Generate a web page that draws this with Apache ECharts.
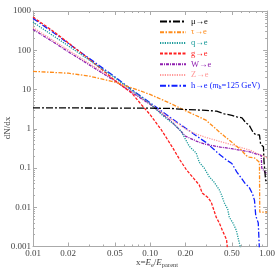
<!DOCTYPE html>
<html><head><meta charset="utf-8">
<script src="https://cdn.jsdelivr.net/npm/echarts@6/dist/echarts.min.js"></script>
<style>html,body{margin:0;padding:0;background:#fff}#c{width:278px;height:271px}</style>
</head><body><div id="c"></div>
<script>
const xMajor = [0.01, 0.02, 0.05, 0.1, 0.2, 0.5, 1];
const xLabels = ['0.01', '0.02', '0.05', '0.10', '0.20', '0.50', '1.00'];
const xMinor = [0.03, 0.04, 0.06, 0.07, 0.08, 0.09, 0.3, 0.4, 0.6, 0.7, 0.8, 0.9];
const yMajor = [0.001, 0.01, 0.1, 1, 10, 100, 1000];
const yLabels = ['0.001', '0.01', '0.1', '1', '10', '100', '1000'];
const yMinor = [];
[0.001, 0.01, 0.1, 1, 10, 100].forEach(d => { for (let k = 2; k <= 9; k++) yMinor.push(+(d * k).toPrecision(3)); });

const seriesNames = ['μ→e', 'τ→e', 'q→e', 'g→e', 'W→e', 'Z→e', 'h→e (m_h=125 GeV)'];
const seriesColors = ['#000000', '#ff8c1a', '#1a9a9a', '#ff2020', '#9020b0', '#ff9a9a', '#1020ff'];

const muE = [[0.01,3.4],[0.02,3.4],[0.05,3.35],[0.1,3.35],[0.15,3.3],[0.2,3.1],[0.3,2.95],[0.37,2.8],[0.43,2.4],[0.5,2.2],[0.55,2.0],[0.61,1.9],[0.66,1.4],[0.7,1.26],[0.73,1.0],[0.76,0.8],[0.8,0.7],[0.86,0.7],[0.88,0.4],[0.93,0.35],[0.94,0.15],[0.97,0.05],[1.0,0.04]];
const tauE = [[0.01,29],[0.02,26],[0.03,22],[0.05,15.5],[0.07,11],[0.1,7.5],[0.15,4.4],[0.2,2.9],[0.3,1.66],[0.4,0.78],[0.5,0.45],[0.6,0.29],[0.66,0.21],[0.7,0.19],[0.78,0.18],[0.86,0.14],[0.865,0.0075],[1.0,0.0075]];
const qE = [[0.01,520],[0.015,230],[0.02,130],[0.03,57],[0.05,20],[0.07,9.5],[0.1,4.4],[0.13,2.1],[0.16,1.3],[0.185,0.85],[0.2,0.55],[0.216,0.36],[0.248,0.24],[0.263,0.14],[0.29,0.1],[0.32,0.06],[0.35,0.045],[0.39,0.028],[0.41,0.02],[0.43,0.013],[0.46,0.009],[0.475,0.0056],[0.51,0.004],[0.545,0.0026],[0.58,0.0012],[0.6,0.0008]];
const gE = [[0.01,700],[0.015,300],[0.02,155],[0.03,60],[0.04,30],[0.05,17],[0.07,8.0],[0.085,4.0],[0.1,2.3],[0.125,0.93],[0.155,0.34],[0.18,0.16],[0.205,0.089],[0.235,0.055],[0.263,0.037],[0.279,0.023],[0.31,0.018],[0.333,0.0135],[0.367,0.0056],[0.39,0.004],[0.414,0.0026],[0.45,0.0015],[0.46,0.0008]];
const wE = [[0.01,340],[0.015,160],[0.02,92],[0.03,43],[0.05,16.5],[0.07,8.4],[0.1,4.2],[0.15,1.6],[0.178,0.95],[0.2,0.65],[0.263,0.45],[0.3,0.4],[0.4,0.34],[0.5,0.31],[0.6,0.28],[0.7,0.26],[0.8,0.23],[0.89,0.21],[0.9,0.1],[0.95,0.08],[1.0,0.07]];
const zE = [[0.01,380],[0.015,175],[0.02,102],[0.03,47],[0.05,17.5],[0.07,8.8],[0.1,4.3],[0.15,1.8],[0.2,1.0],[0.23,0.8],[0.263,0.69],[0.3,0.6],[0.4,0.47],[0.5,0.39],[0.6,0.33],[0.7,0.29],[0.75,0.27],[0.8,0.24],[0.9,0.21],[0.93,0.19],[1.0,0.18]];
const hE = [[0.01,650],[0.015,280],[0.02,150],[0.03,63],[0.05,21],[0.07,9.8],[0.1,4.6],[0.15,1.9],[0.2,1.05],[0.25,0.65],[0.3,0.45],[0.35,0.3],[0.4,0.21],[0.45,0.16],[0.5,0.13],[0.55,0.08],[0.6,0.056],[0.65,0.04],[0.7,0.033],[0.75,0.022],[0.78,0.015],[0.8,0.006],[0.84,0.004],[0.86,0.0008]];

const seriesData = [muE, tauE, qE, gE, wE, zE, hE];
const dashes = [[7,2,2,2],[4,1.5,1.5,1.5],[1.2,1.2],[3,1.5],[3,1,1,1],[1.2,1.2],[6,2,1.5,2]];

const FONT = 'Liberation Serif';
const FRAME = '#aaaaaa';
function lab(list, labels) {
  return v => { for (let i = 0; i < list.length; i++) if (Math.abs(v / list[i] - 1) < 1e-6) return labels[i]; return ''; };
}
function axis(dim, pos, ticks, len, showLabel, showLine) {
  const isX = dim === 'x';
  return {
    type: 'log', gridIndex: 0, position: pos,
    min: isX ? 0.01 : 0.001, max: isX ? 1 : 1000,
    axisLine: { show: showLine, lineStyle: { color: FRAME, width: 1 } },
    axisTick: { show: true, inside: true, length: len, customValues: ticks, lineStyle: { color: FRAME, width: 1 } },
    axisLabel: showLabel ? {
      show: true, customValues: isX ? xMajor : yMajor, formatter: isX ? lab(xMajor, xLabels) : lab(yMajor, yLabels),
      fontFamily: FONT, fontSize: 9, color: '#444', margin: isX ? 3 : 2
    } : { show: false },
    splitLine: { show: false }, minorTick: { show: false }
  };
}

const chart = echarts.init(document.getElementById('c'), null, { renderer: 'canvas' });
chart.setOption({
  backgroundColor: '#fff',
  animation: false,
  grid: { left: 33, right: 9, top: 11, bottom: 24.5, containLabel: false },
  xAxis: [
    axis('x', 'bottom', xMajor, 4, true, true),
    axis('x', 'bottom', xMinor, 2, false, false),
    axis('x', 'top', xMajor, 4, false, true),
    axis('x', 'top', xMinor, 2, false, false)
  ],
  yAxis: [
    axis('y', 'left', yMajor, 4, true, true),
    axis('y', 'left', yMinor, 2, false, false),
    axis('y', 'right', yMajor, 4, false, true),
    axis('y', 'right', yMinor, 2, false, false)
  ],
  legend: {
    orient: 'vertical', left: 159, top: 17, itemWidth: 26, itemHeight: 10, itemGap: 1.7,
    padding: 0,
    itemStyle: { opacity: 0, borderWidth: 0 },
    data: seriesNames.map((n, i) => ({ name: n, textStyle: { color: seriesColors[i] } })),
    formatter: n => n === seriesNames[6] ? '{a|h→e (}{i|m}{s|h}{a|=125 GeV)}' : n,
    textStyle: {
      fontFamily: FONT, fontSize: 8.5,
      rich: {
        a: { fontFamily: FONT, fontSize: 8.5, color: seriesColors[6] },
        i: { fontFamily: FONT, fontSize: 8.5, fontStyle: 'italic', color: seriesColors[6] },
        s: { fontFamily: FONT, fontSize: 6, color: seriesColors[6], padding: [4, 0, 0, 0] }
      }
    }
  },
  graphic: [
    { type: 'text', x: 8, y: 128, rotation: Math.PI / 2,
      style: { text: 'dN/dx', align: 'center', verticalAlign: 'middle', fontFamily: FONT, fontSize: 9, fill: '#444' } },
    { type: 'text', x: 157, y: 263,
      style: { text: '{n|x=}{i|E}{s|e}{n|/}{i|E}{s|parent}', align: 'center', verticalAlign: 'middle',
        rich: {
          n: { fontFamily: FONT, fontSize: 9, fill: '#444' },
          i: { fontFamily: FONT, fontSize: 9, fontStyle: 'italic', fill: '#444' },
          s: { fontFamily: FONT, fontSize: 6.5, fill: '#444', padding: [5, 0, 0, 0] }
        } } }
  ],
  series: seriesData.map((d, i) => ({
    name: seriesNames[i], type: 'line', data: d, xAxisIndex: 0, yAxisIndex: 0,
    showSymbol: false, symbol: 'none', clip: true,
    lineStyle: { color: seriesColors[i], width: 1.3, type: dashes[i] },
    itemStyle: { color: seriesColors[i] }, z: 10 - i
  }))
});
</script>
</body></html>
